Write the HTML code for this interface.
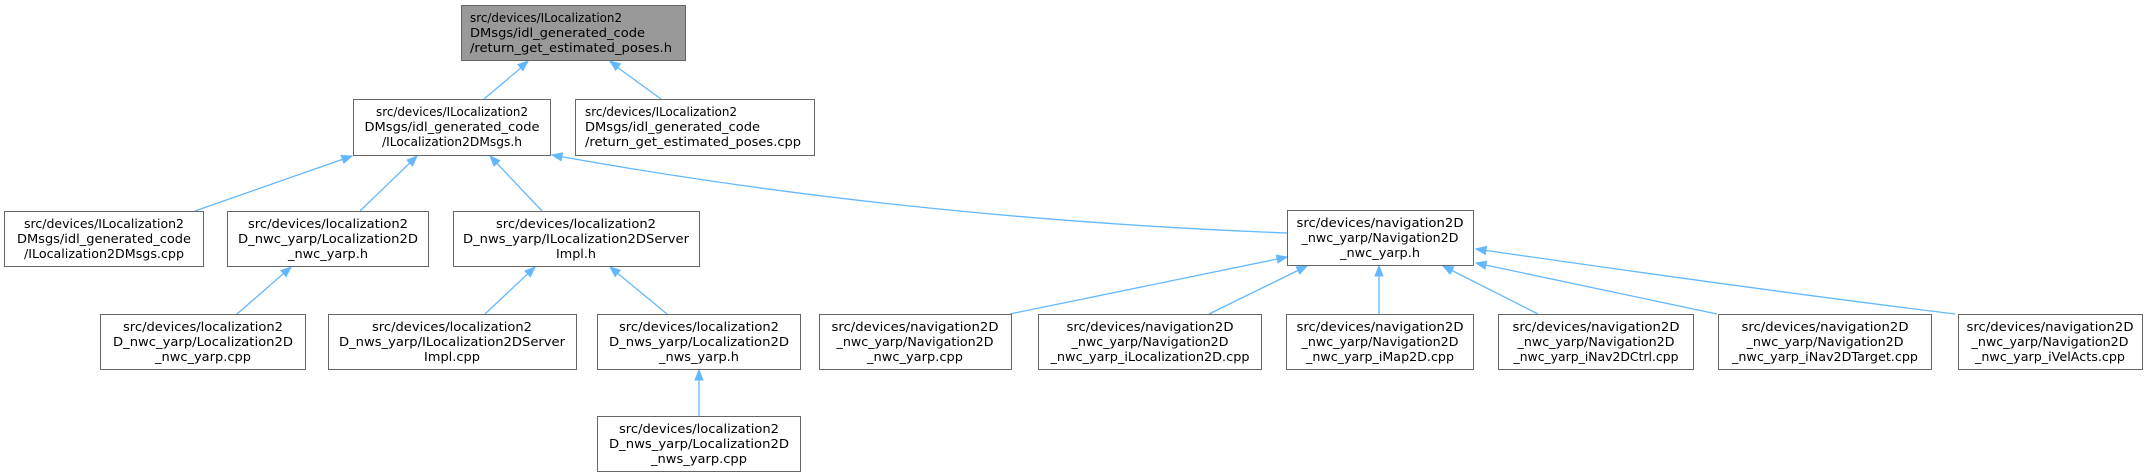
<!DOCTYPE html>
<html><head><meta charset="utf-8"><style>
html,body{margin:0;padding:0;background:#fff;}
svg{display:block}
text{font-family:"DejaVu Sans","Liberation Sans",sans-serif;font-size:12.5px;fill:#000;}
</style></head><body>
<svg width="2148" height="476" viewBox="0 0 2148 476" xmlns="http://www.w3.org/2000/svg">
<g stroke="#63b8ff" stroke-width="1.3" fill="none">
<line x1="528" y1="62" x2="484" y2="99"/>
<line x1="610" y1="62" x2="661" y2="99"/>
<line x1="352" y1="156" x2="195" y2="211"/>
<line x1="417" y1="156" x2="360" y2="211"/>
<line x1="490" y1="156" x2="542" y2="211"/>
<path d="M552,155 Q900,218 1287,233"/>
<line x1="291" y1="267" x2="237" y2="314"/>
<line x1="535" y1="267" x2="485" y2="314"/>
<line x1="610" y1="267" x2="667" y2="314"/>
<line x1="699" y1="370" x2="699" y2="416"/>
<line x1="1287" y1="257" x2="1010" y2="314"/>
<line x1="1307" y1="266" x2="1209" y2="314"/>
<line x1="1379" y1="266" x2="1379" y2="314"/>
<line x1="1443" y1="266" x2="1538" y2="314"/>
<line x1="1476" y1="263" x2="1717" y2="314"/>
<path d="M1476,249 Q1760,290 1955,314"/>
</g>
<g fill="#63b8ff" stroke="#63b8ff" stroke-width="1">
<polygon points="528,61 523,70.6 517.8,64.6"/>
<polygon points="610,61 615.6,70.2 620.4,63.8"/>
<polygon points="352,156 343.8,163.1 341.2,155.5"/>
<polygon points="417,156 412.6,165.9 407,160.1"/>
<polygon points="490,156 494,166 499.8,160.6"/>
<polygon points="552,155 561.1,160.7 562.5,152.9"/>
<polygon points="291,267 286.1,276.6 280.9,270.6"/>
<polygon points="535,267 530.4,276.8 525,271"/>
<polygon points="610,267 615.2,276.5 620.2,270.3"/>
<polygon points="699,370 695,380 703,380"/>
<polygon points="1287,257 1278,262.9 1276.4,255.1"/>
<polygon points="1307,266 1299.8,274 1296.2,266.8"/>
<polygon points="1379,266 1375,276 1383,276"/>
<polygon points="1443,266 1450.1,274.1 1453.7,266.9"/>
<polygon points="1476,263 1485,269 1486.6,261.2"/>
<polygon points="1476,249 1485.3,254.4 1486.5,246.4"/>
</g>
<g stroke="#666" stroke-width="1">
<rect x="461.5" y="5.5" width="224" height="55" fill="#999"/>
<rect x="353.5" y="99.5" width="197" height="56" fill="#fff"/>
<rect x="575.5" y="99.5" width="239" height="56" fill="#fff"/>
<rect x="4.5" y="211.5" width="199" height="55" fill="#fff"/>
<rect x="227.5" y="211.5" width="201" height="55" fill="#fff"/>
<rect x="453.5" y="211.5" width="246" height="55" fill="#fff"/>
<rect x="1287.5" y="210.5" width="186" height="55" fill="#fff"/>
<rect x="100.5" y="314.5" width="205" height="55" fill="#fff"/>
<rect x="328.5" y="314.5" width="248" height="55" fill="#fff"/>
<rect x="597.5" y="314.5" width="203" height="55" fill="#fff"/>
<rect x="597.5" y="416.5" width="203" height="55" fill="#fff"/>
<rect x="819.5" y="314.5" width="192" height="55" fill="#fff"/>
<rect x="1038.5" y="314.5" width="223" height="55" fill="#fff"/>
<rect x="1286.5" y="314.5" width="187" height="55" fill="#fff"/>
<rect x="1498.5" y="314.5" width="195" height="55" fill="#fff"/>
<rect x="1718.5" y="314.5" width="213" height="55" fill="#fff"/>
<rect x="1958.5" y="314.5" width="184" height="55" fill="#fff"/>
</g>
<g>
<text x="470" y="22" textLength="152" lengthAdjust="spacingAndGlyphs">src/devices/ILocalization2</text>
<text x="470" y="37" textLength="175" lengthAdjust="spacingAndGlyphs">DMsgs/idl_generated_code</text>
<text x="470" y="52" textLength="202" lengthAdjust="spacingAndGlyphs">/return_get_estimated_poses.h</text>

<text x="452" y="116" text-anchor="middle" textLength="152" lengthAdjust="spacingAndGlyphs">src/devices/ILocalization2</text>
<text x="452" y="131" text-anchor="middle" textLength="175" lengthAdjust="spacingAndGlyphs">DMsgs/idl_generated_code</text>
<text x="452" y="146" text-anchor="middle" textLength="140" lengthAdjust="spacingAndGlyphs">/ILocalization2DMsgs.h</text>

<text x="585" y="116" textLength="152" lengthAdjust="spacingAndGlyphs">src/devices/ILocalization2</text>
<text x="585" y="131" textLength="175" lengthAdjust="spacingAndGlyphs">DMsgs/idl_generated_code</text>
<text x="585" y="146" textLength="216" lengthAdjust="spacingAndGlyphs">/return_get_estimated_poses.cpp</text>

<text x="104" y="228" text-anchor="middle" textLength="160" lengthAdjust="spacingAndGlyphs">src/devices/ILocalization2</text>
<text x="104" y="243" text-anchor="middle" textLength="174" lengthAdjust="spacingAndGlyphs">DMsgs/idl_generated_code</text>
<text x="104" y="258" text-anchor="middle" textLength="160" lengthAdjust="spacingAndGlyphs">/ILocalization2DMsgs.cpp</text>

<text x="328" y="228" text-anchor="middle" textLength="160" lengthAdjust="spacingAndGlyphs">src/devices/localization2</text>
<text x="328" y="243" text-anchor="middle" textLength="180" lengthAdjust="spacingAndGlyphs">D_nwc_yarp/Localization2D</text>
<text x="328" y="258" text-anchor="middle" textLength="80" lengthAdjust="spacingAndGlyphs">_nwc_yarp.h</text>

<text x="576" y="228" text-anchor="middle" textLength="160" lengthAdjust="spacingAndGlyphs">src/devices/localization2</text>
<text x="576" y="243" text-anchor="middle" textLength="226" lengthAdjust="spacingAndGlyphs">D_nws_yarp/ILocalization2DServer</text>
<text x="576" y="258" text-anchor="middle" textLength="40" lengthAdjust="spacingAndGlyphs">Impl.h</text>

<text x="1380" y="227" text-anchor="middle" textLength="167" lengthAdjust="spacingAndGlyphs">src/devices/navigation2D</text>
<text x="1380" y="242" text-anchor="middle" textLength="157" lengthAdjust="spacingAndGlyphs">_nwc_yarp/Navigation2D</text>
<text x="1380" y="257" text-anchor="middle" textLength="80" lengthAdjust="spacingAndGlyphs">_nwc_yarp.h</text>

<text x="203" y="331" text-anchor="middle" textLength="160" lengthAdjust="spacingAndGlyphs">src/devices/localization2</text>
<text x="203" y="346" text-anchor="middle" textLength="180" lengthAdjust="spacingAndGlyphs">D_nwc_yarp/Localization2D</text>
<text x="203" y="361" text-anchor="middle" textLength="96" lengthAdjust="spacingAndGlyphs">_nwc_yarp.cpp</text>

<text x="452" y="331" text-anchor="middle" textLength="160" lengthAdjust="spacingAndGlyphs">src/devices/localization2</text>
<text x="452" y="346" text-anchor="middle" textLength="226" lengthAdjust="spacingAndGlyphs">D_nws_yarp/ILocalization2DServer</text>
<text x="452" y="361" text-anchor="middle" textLength="56" lengthAdjust="spacingAndGlyphs">Impl.cpp</text>

<text x="699" y="331" text-anchor="middle" textLength="160" lengthAdjust="spacingAndGlyphs">src/devices/localization2</text>
<text x="699" y="346" text-anchor="middle" textLength="180" lengthAdjust="spacingAndGlyphs">D_nws_yarp/Localization2D</text>
<text x="699" y="361" text-anchor="middle" textLength="80" lengthAdjust="spacingAndGlyphs">_nws_yarp.h</text>

<text x="699" y="433" text-anchor="middle" textLength="160" lengthAdjust="spacingAndGlyphs">src/devices/localization2</text>
<text x="699" y="448" text-anchor="middle" textLength="180" lengthAdjust="spacingAndGlyphs">D_nws_yarp/Localization2D</text>
<text x="699" y="463" text-anchor="middle" textLength="96" lengthAdjust="spacingAndGlyphs">_nws_yarp.cpp</text>

<text x="915" y="331" text-anchor="middle" textLength="167" lengthAdjust="spacingAndGlyphs">src/devices/navigation2D</text>
<text x="915" y="346" text-anchor="middle" textLength="157" lengthAdjust="spacingAndGlyphs">_nwc_yarp/Navigation2D</text>
<text x="915" y="361" text-anchor="middle" textLength="96" lengthAdjust="spacingAndGlyphs">_nwc_yarp.cpp</text>

<text x="1150" y="331" text-anchor="middle" textLength="167" lengthAdjust="spacingAndGlyphs">src/devices/navigation2D</text>
<text x="1150" y="346" text-anchor="middle" textLength="157" lengthAdjust="spacingAndGlyphs">_nwc_yarp/Navigation2D</text>
<text x="1150" y="361" text-anchor="middle" textLength="199" lengthAdjust="spacingAndGlyphs">_nwc_yarp_iLocalization2D.cpp</text>

<text x="1380" y="331" text-anchor="middle" textLength="167" lengthAdjust="spacingAndGlyphs">src/devices/navigation2D</text>
<text x="1380" y="346" text-anchor="middle" textLength="157" lengthAdjust="spacingAndGlyphs">_nwc_yarp/Navigation2D</text>
<text x="1380" y="361" text-anchor="middle" textLength="148" lengthAdjust="spacingAndGlyphs">_nwc_yarp_iMap2D.cpp</text>

<text x="1596" y="331" text-anchor="middle" textLength="167" lengthAdjust="spacingAndGlyphs">src/devices/navigation2D</text>
<text x="1596" y="346" text-anchor="middle" textLength="157" lengthAdjust="spacingAndGlyphs">_nwc_yarp/Navigation2D</text>
<text x="1596" y="361" text-anchor="middle" textLength="165" lengthAdjust="spacingAndGlyphs">_nwc_yarp_iNav2DCtrl.cpp</text>

<text x="1825" y="331" text-anchor="middle" textLength="167" lengthAdjust="spacingAndGlyphs">src/devices/navigation2D</text>
<text x="1825" y="346" text-anchor="middle" textLength="157" lengthAdjust="spacingAndGlyphs">_nwc_yarp/Navigation2D</text>
<text x="1825" y="361" text-anchor="middle" textLength="186" lengthAdjust="spacingAndGlyphs">_nwc_yarp_iNav2DTarget.cpp</text>

<text x="2050" y="331" text-anchor="middle" textLength="167" lengthAdjust="spacingAndGlyphs">src/devices/navigation2D</text>
<text x="2050" y="346" text-anchor="middle" textLength="157" lengthAdjust="spacingAndGlyphs">_nwc_yarp/Navigation2D</text>
<text x="2050" y="361" text-anchor="middle" textLength="150" lengthAdjust="spacingAndGlyphs">_nwc_yarp_iVelActs.cpp</text>
</g>
</svg>
</body></html>
